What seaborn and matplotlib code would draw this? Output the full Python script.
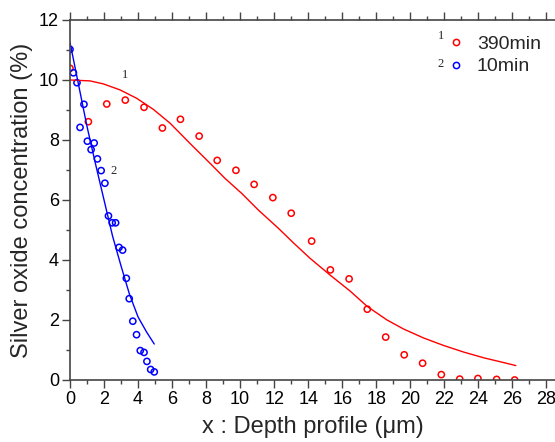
import numpy as np
import pandas as pd
import matplotlib
matplotlib.use("Agg")
import matplotlib.pyplot as plt
from matplotlib.ticker import MultipleLocator
import seaborn as sns

# measured points, 390 min (curve 1)
x_390 = [0, 1.08, 2.16, 3.25, 4.35, 5.43, 6.49, 7.59, 8.65, 9.75, 10.82, 11.92, 13.0,
         14.2, 15.3, 16.4, 17.47, 18.55, 19.64, 20.72, 21.82, 22.9, 23.97, 25.07, 26.13]
y_390 = [10.39, 8.61, 9.2, 9.33, 9.09, 8.4, 8.69, 8.13, 7.32, 6.99, 6.52, 6.08, 5.56,
         4.63, 3.67, 3.37, 2.36, 1.43, 0.84, 0.56, 0.18, 0.03, 0.05, 0.02, 0.0]

# measured points, 10 min (curve 2)
x_10 = [0, 0.2, 0.41, 0.59, 0.82, 1.02, 1.24, 1.42, 1.61, 1.83, 2.05, 2.26, 2.48, 2.68,
        2.88, 3.09, 3.31, 3.48, 3.69, 3.91, 4.13, 4.35, 4.52, 4.74, 4.95]
y_10 = [11.02, 10.24, 9.91, 8.42, 9.19, 7.96, 7.68, 7.9, 7.37, 6.98, 6.56, 5.47, 5.24, 5.24,
        4.42, 4.33, 3.39, 2.71, 1.96, 1.51, 0.98, 0.92, 0.62, 0.35, 0.27]

# fitted curves
fit_x_390 = [0, 1.18, 1.96, 2.94, 3.92, 4.9, 5.88, 7.15, 8.13, 9.11, 10.09, 11.06, 12.24,
             13.17, 14.1, 15.28, 16.47, 17.47, 18.63, 19.6, 20.78, 21.96, 23.14,
             24.31, 25.49, 26.2]
fit_y_390 = [10.0, 9.97, 9.87, 9.67, 9.39, 9.02, 8.56, 7.83, 7.28, 6.72, 6.22, 5.67, 5.06,
             4.55, 4.06, 3.5, 2.96, 2.45, 2.0, 1.7, 1.4, 1.15, 0.93, 0.74, 0.58, 0.48]

fit_x_10 = [0, 0.5, 1.0, 1.5, 2.0, 2.5, 3.0, 3.5, 4.0, 4.5, 4.95]
fit_y_10 = [11.25, 9.85, 8.45, 7.2, 6.0, 4.8, 3.8, 2.85, 2.1, 1.6, 1.2]

labels = ["390min", "10min"]
colors = {"390min": "#ff0000", "10min": "#0000ff"}

pts = pd.concat([
    pd.DataFrame({"x": x_390, "y": y_390, "run": labels[0]}),
    pd.DataFrame({"x": x_10, "y": y_10, "run": labels[1]}),
])

sns.set_style("ticks")
plt.rcParams["font.family"] = ["Liberation Sans", "DejaVu Sans"]

fig = plt.figure(figsize=(5.55, 4.42), dpi=100)
ax = fig.add_axes([70 / 555, 62 / 442, 485 / 555, 360 / 442])

sns.lineplot(x=fit_x_390, y=fit_y_390, color=colors["390min"], lw=1.0, sort=False, ax=ax)
sns.lineplot(x=fit_x_10, y=fit_y_10, color=colors["10min"], lw=1.0, sort=False, ax=ax)
sns.scatterplot(data=pts, x="x", y="y", hue="run", palette=colors, marker="o",
                s=20, facecolor="none", linewidth=1.1, ax=ax, legend=False)
# open circles: edge colour from hue
for coll in ax.collections:
    fc = coll.get_facecolors()
    coll.set_edgecolors(fc)
    coll.set_facecolors("none")

ax.set_xlim(0, 28.5)
ax.set_ylim(0, 12)
ax.xaxis.set_major_locator(MultipleLocator(2))
ax.xaxis.set_minor_locator(MultipleLocator(1))
ax.yaxis.set_major_locator(MultipleLocator(2))
ax.yaxis.set_minor_locator(MultipleLocator(1))

for s in ["left", "bottom", "top"]:
    ax.spines[s].set_color("#444444")
    ax.spines[s].set_linewidth(1.2)
ax.spines["right"].set_visible(False)
ax.tick_params(which="both", direction="out", top=True, right=False, color="#444444",
               width=1.0, labelsize=13, labelcolor="black")
ax.tick_params(which="major", length=6, pad=2)
ax.tick_params(which="minor", length=3)

ax.set_xlabel("x : Depth profile (\u03bcm)", fontsize=17, labelpad=6)
ax.set_ylabel("Silver oxide concentration (%)", fontsize=17, labelpad=4)

# curve numbers
serif = ["Liberation Serif", "DejaVu Serif"]
ax.text(3.25, 10.15, "1", family=serif, fontsize=9, ha="center", va="center")
ax.text(2.55, 6.95, "2", family=serif, fontsize=9, ha="center", va="center")

# legend
handles = [plt.Line2D([], [], ls="none", marker="o", ms=4.5, mfc="none", mew=1.1,
                      mec=colors[l]) for l in labels]
leg = ax.legend(handles, labels, loc="upper right", bbox_to_anchor=(0.995, 0.99),
                frameon=False, fontsize=14, handlelength=0.8, handletextpad=0.65,
                labelspacing=0.25, borderaxespad=0.2)
for i, l in enumerate(labels):
    ax.text(21.8, 11.47 - i * 0.93, str(i + 1), family=serif, fontsize=9,
            ha="center", va="center")

fig.savefig("out.png", dpi=100)
